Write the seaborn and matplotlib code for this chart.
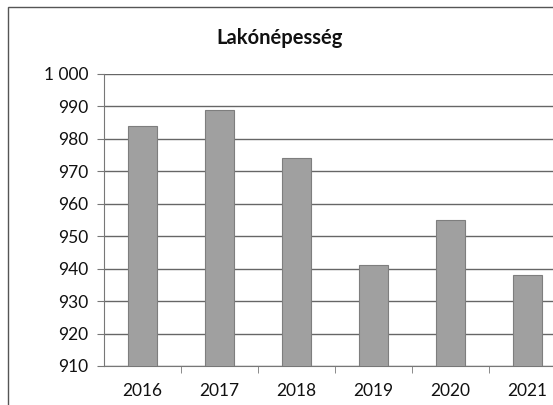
import matplotlib
matplotlib.use("Agg")
import matplotlib.pyplot as plt
import seaborn as sns
import pandas as pd
from matplotlib.patches import Rectangle
from matplotlib.ticker import FixedLocator

years = ["2016", "2017", "2018", "2019", "2020", "2021"]
population = [984, 989, 974, 941, 955, 938]
yticks = [910, 920, 930, 940, 950, 960, 970, 980, 990, 1000]
ytick_labels = ["910", "920", "930", "940", "950", "960", "970", "980", "990", "1 000"]

sns.set_style("white")
plt.rcParams["font.family"] = ["Lato", "DejaVu Sans"]

df = pd.DataFrame({"year": years, "pop": population})

fig = plt.figure(figsize=(5.53, 4.05), dpi=100)
ax = fig.add_axes([0.188, 0.0963, 0.8354, 0.721])

sns.barplot(data=df, x="year", y="pop", ax=ax, color="#a0a0a0", width=0.38,
            edgecolor="#7e7e7e", linewidth=0.8, saturation=1, zorder=3)

ax.set_ylim(910, 1000)
ax.set_xlim(-0.5, 5.5)
ax.set_yticks(yticks)
ax.set_yticklabels(ytick_labels)
ax.set_xlabel("")
ax.set_ylabel("")

ax.yaxis.grid(True, color="#666666", linewidth=1, zorder=0)
ax.set_axisbelow(True)

for s in ["top", "right"]:
    ax.spines[s].set_visible(False)
ax.spines["left"].set_color("#777777")
ax.spines["bottom"].set_color("#777777")

ax.tick_params(axis="y", left=True, length=5, color="#777777", labelsize=12.5,
               labelcolor="#111111", pad=6)
ax.tick_params(axis="x", which="major", bottom=False, labelsize=12.5,
               labelcolor="#111111", pad=9)
ax.xaxis.set_minor_locator(FixedLocator([0.5, 1.5, 2.5, 3.5, 4.5]))
ax.tick_params(axis="x", which="minor", bottom=True, length=5, color="#777777")

fig.text(0.505, 1 - 38 / 405, "Lakónépesség", ha="center", va="center",
         fontsize=14.5, fontweight="bold", color="#111111")

fig.patches.append(Rectangle((8 / 553, -0.1), 1.2, 1.083, transform=fig.transFigure,
                             fill=False, edgecolor="#555555", linewidth=1))

fig.savefig("out.png", dpi=100)
